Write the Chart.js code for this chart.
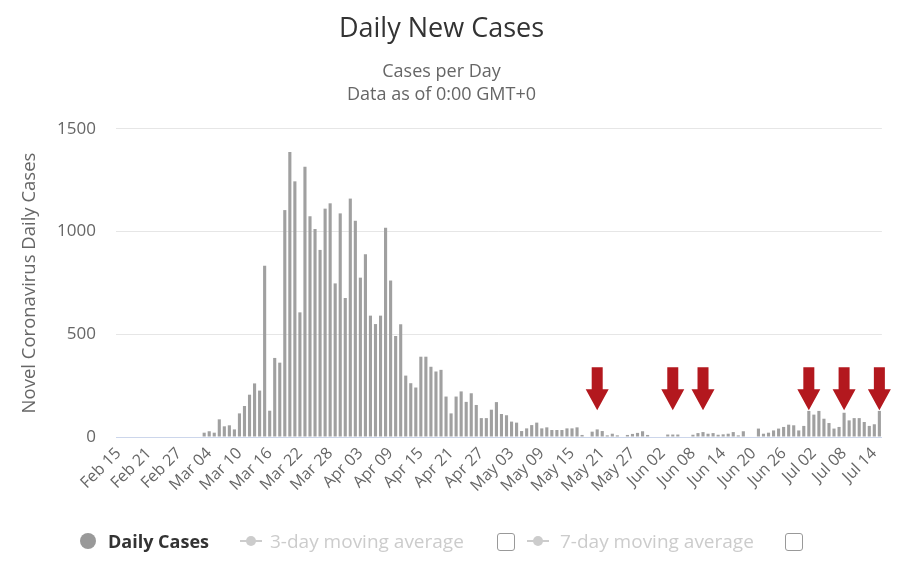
<!DOCTYPE html>
<html>
<head>
<meta charset="utf-8">
<title>Daily New Cases</title>
<script src="https://cdn.jsdelivr.net/npm/chart.js@4.4.0/dist/chart.umd.min.js"></script>
<style>
  html, body { margin: 0; padding: 0; background: #fff; }
  #wrap { position: relative; width: 900px; height: 576px; }
  #legend { position: absolute; left: 0; top: 527px; width: 900px; height: 28px;
            font-family: "Open Sans", sans-serif; font-size: 19px; }
  .item { position: absolute; top: 0; height: 28px; line-height: 28px; white-space: nowrap; }
  .dot { position: absolute; top: 6px; width: 16px; height: 16px; border-radius: 50%; background: #999; }
  .line { position: absolute; top: 13px; height: 2px; background: #ccc; }
  .mark { position: absolute; top: 9px; width: 10px; height: 10px; border-radius: 50%; background: #ccc; }
  .box { position: absolute; top: 6px; width: 16px; height: 16px; border: 1px solid #999;
         border-radius: 3px; background: #fff; }
</style>
</head>
<body>
<div id="wrap">
  <canvas id="myChart" width="900" height="576"></canvas>
  <div id="legend">
    <div class="dot" style="left:80px"></div>
    <div class="item" style="left:108px;color:#333;font-weight:bold;font-size:18px">Daily Cases</div>
    <div class="line" style="left:240px;width:22px"></div>
    <div class="mark" style="left:246px"></div>
    <div class="item" style="left:270px;color:#ccc">3-day moving average</div>
    <div class="box" style="left:497px"></div>
    <div class="line" style="left:527px;width:22px"></div>
    <div class="mark" style="left:533px"></div>
    <div class="item" style="left:560px;color:#ccc">7-day moving average</div>
    <div class="box" style="left:785px"></div>
  </div>
</div>
<script>
// chart data

let monthNames = ["Jan", "Feb", "Mar", "Apr", "May", "Jun", "Jul"];
let firstDay = new Date(2020, 1, 15);
let dayCount = 152;

// tick labels shown under the axis (every 6th day)
let tickLabels = ["Feb 15", "Feb 21", "Feb 27", "Mar 04", "Mar 10", "Mar 16", "Mar 22",
  "Mar 28", "Apr 03", "Apr 09", "Apr 15", "Apr 21", "Apr 27", "May 03", "May 09",
  "May 15", "May 21", "May 27", "Jun 02", "Jun 08", "Jun 14", "Jun 20", "Jun 26",
  "Jul 02", "Jul 08", "Jul 14"];

// y axis ticks
let yTicks = [0, 500, 1000, 1500];

// new cases per day, Feb 15 .. Jul 15
let dailyCases = [
  0, 0, 0, 0, 0, 0, 0, 0, 0, 0, 0, 0, 0, 0, 0, 0, 0,
  21, 28, 21, 86, 52, 57, 37, 115, 151, 206, 261, 226,
  834, 128, 385, 362, 1105, 1388, 1245, 607, 1316, 1075, 1013, 911,
  1112, 1138, 748, 1089, 677, 1161, 1053, 776, 890, 591, 550, 591,
  1019, 762, 492, 549, 299, 262, 241, 391, 391, 342, 319, 327,
  197, 115, 197, 222, 171, 213, 156, 92, 92, 133, 170, 112,
  106, 75, 70, 29, 42, 58, 70, 42, 47, 34, 34, 34,
  42, 42, 47, 10, 0, 26, 37, 29, 8, 16, 8, 0,
  10, 15, 20, 28, 10, 0, 0, 0, 12, 12, 12, 0,
  0, 11, 19, 24, 16, 19, 11, 13, 16, 24, 8, 28,
  0, 0, 41, 16, 21, 32, 41, 49, 60, 57, 32, 54,
  127, 109, 127, 89, 68, 41, 49, 118, 81, 92, 92, 73, 54, 62, 127
];

// days marked with a red arrow
let arrowDays = ["May 20", "Jun 04", "Jun 10", "Jul 01", "Jul 08", "Jul 15"];
let arrowTopValue = 340;
let arrowTipValue = 130;

// build the day names for the category axis
let categories = [];
for (let i = 0; i < dayCount; i++) {
  let d = new Date(firstDay.getFullYear(), firstDay.getMonth(), firstDay.getDate() + i);
  let day = d.getDate() < 10 ? "0" + d.getDate() : "" + d.getDate();
  categories.push(monthNames[d.getMonth()] + " " + day);
}

// draws the red arrows over the bars
const arrowPlugin = {
  id: "arrows",
  afterDatasetsDraw(chart) {
    let ctx = chart.ctx;
    let xScale = chart.scales.x;
    let yScale = chart.scales.y;
    let top = yScale.getPixelForValue(arrowTopValue);
    let tip = yScale.getPixelForValue(arrowTipValue);
    let headStart = tip - 21;
    ctx.save();
    ctx.fillStyle = "#b3181e";
    for (let i = 0; i < arrowDays.length; i++) {
      let cx = xScale.getPixelForValue(categories.indexOf(arrowDays[i]));
      ctx.beginPath();
      ctx.moveTo(cx - 5.5, top);
      ctx.lineTo(cx + 5.5, top);
      ctx.lineTo(cx + 5.5, headStart);
      ctx.lineTo(cx + 11.5, headStart);
      ctx.lineTo(cx, tip);
      ctx.lineTo(cx - 11.5, headStart);
      ctx.lineTo(cx - 5.5, headStart);
      ctx.closePath();
      ctx.fill();
    }
    ctx.restore();
  }
};

Chart.defaults.font.family = '"Open Sans", sans-serif';

const config = {
  type: "bar",
  data: {
    labels: categories,
    datasets: [
      {
        label: "Daily Cases",
        data: dailyCases,
        backgroundColor: "#a0a0a0",
        barPercentage: 0.62,
        categoryPercentage: 1,
      },
    ],
  },
  options: {
    responsive: false,
    animation: false,
    layout: { padding: { left: 0, right: 17, top: 0, bottom: 0 } },
    plugins: {
      legend: { display: false },
      tooltip: { enabled: false },
      title: {
        display: true,
        text: "Daily New Cases",
        color: "#333",
        font: { size: 27, weight: "normal", lineHeight: 1.2 },
        padding: { top: 13, bottom: 0 },
      },
      subtitle: {
        display: true,
        text: ["Cases per Day", "Data as of 0:00 GMT+0"],
        color: "#666",
        font: { size: 18, lineHeight: 1.28 },
        padding: { top: 15, bottom: 22.5 },
      },
    },
    scales: {
      x: {
        grid: { display: false, drawTicks: false },
        border: { color: "#ccd6eb" },
        ticks: {
          autoSkip: false,
          minRotation: 45,
          maxRotation: 45,
          color: "#666",
          font: { size: 16 },
          padding: 7,
          callback: function (value, index) {
            return tickLabels.includes(categories[index]) ? categories[index] : "";
          },
        },
        afterFit: function (scale) {
          scale.height = 139;
        },
      },
      y: {
        min: yTicks[0],
        max: yTicks[yTicks.length - 1],
        afterBuildTicks: function (scale) {
          scale.ticks = yTicks.map(function (v) { return { value: v }; });
        },
        ticks: {
          color: "#666",
          font: { size: 17 },
          padding: 20,
          callback: function (value) {
            return String(value);
          },
        },
        grid: { color: "#e6e6e6", drawTicks: false },
        border: { display: false },
        title: {
          display: true,
          text: "Novel Coronavirus Daily Cases",
          color: "#666",
          font: { size: 18.5 },
          padding: { top: 19 },
        },
        afterFit: function (scale) {
          scale.width = 116;
        },
      },
    },
  },
  plugins: [arrowPlugin],
};

let canvasChart = document.getElementById("myChart").getContext("2d");
const myChart = new Chart(canvasChart, config);
</script>
</body>
</html>
